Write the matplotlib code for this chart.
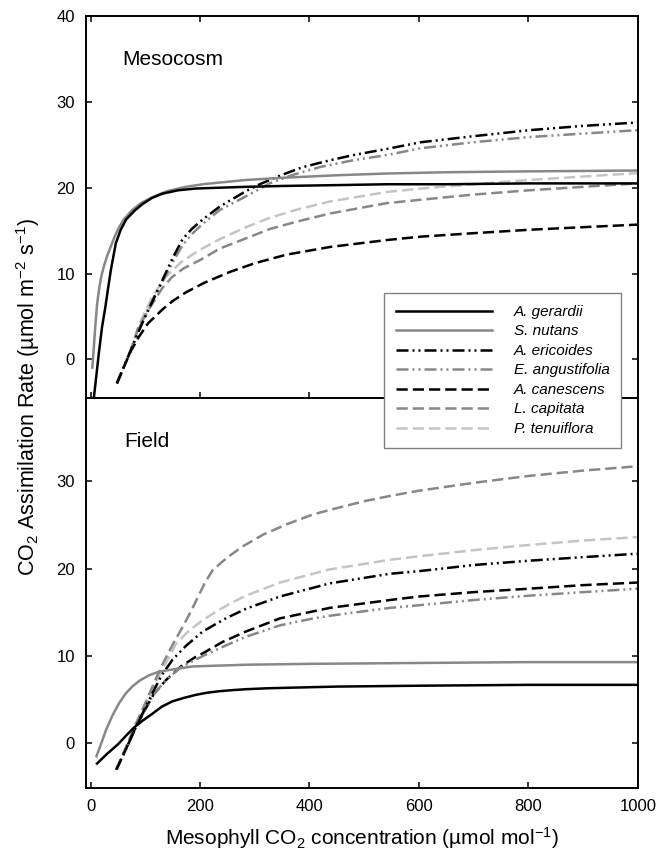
import matplotlib
matplotlib.use("Agg")
import matplotlib.pyplot as plt
from matplotlib.lines import Line2D

plt.rcParams["font.family"] = ["Liberation Sans", "DejaVu Sans"]
plt.rcParams["mathtext.fontset"] = "custom"
plt.rcParams["mathtext.rm"] = "Liberation Sans"
plt.rcParams["mathtext.it"] = "Liberation Sans:italic"
plt.rcParams["mathtext.default"] = "regular"

# ---------------- species and styles ----------------
species = ["A. gerardii", "S. nutans", "A. ericoides", "E. angustifolia",
           "A. canescens", "L. capitata", "P. tenuiflora"]

# ---------------- Mesocosm curves (Ci, A) ----------------
meso_gerardii_x = [5, 10, 15, 21, 27, 32, 37, 46, 55, 65, 80, 95, 112, 131, 160, 192, 236, 284, 350, 450, 541, 650, 800, 1000]
meso_gerardii_y = [-5.0, -2.2, 0.7, 3.8, 6.1, 8.3, 10.4, 13.5, 15.1, 16.3, 17.3, 18.1, 18.8, 19.3, 19.7, 19.9, 20.0, 20.1, 20.2, 20.3, 20.4, 20.4, 20.5, 20.5]

meso_nutans_x = [3, 6, 9, 12, 16, 20, 25, 30, 36, 44, 52, 62, 76, 92, 113, 140, 174, 205, 236, 284, 350, 450, 541, 650, 800, 1000]
meso_nutans_y = [-1.1, 1.5, 4.2, 6.5, 8.4, 9.8, 11.0, 12.0, 13.0, 14.3, 15.4, 16.4, 17.4, 18.2, 18.9, 19.6, 20.1, 20.4, 20.6, 20.9, 21.15, 21.45, 21.65, 21.8, 21.9, 22.0]

meso_ericoides_x = [48, 60, 73, 88, 100, 115, 131, 150, 168, 185, 205, 236, 284, 309, 350, 388, 438, 480, 540, 604, 700, 802, 900, 1000]
meso_ericoides_y = [-2.8, -1.0, 1.0, 3.3, 5.0, 7.0, 9.2, 11.8, 14.0, 15.2, 16.3, 17.8, 19.6, 20.4, 21.5, 22.4, 23.2, 23.8, 24.5, 25.3, 26.0, 26.7, 27.2, 27.6]

meso_angustifolia_x = [48, 60, 73, 88, 100, 115, 131, 150, 168, 185, 205, 236, 284, 327, 370, 419, 480, 541, 604, 700, 802, 900, 1000]
meso_angustifolia_y = [-2.8, -1.0, 1.0, 3.5, 5.2, 7.2, 9.0, 11.3, 13.3, 14.6, 15.8, 17.4, 19.0, 20.5, 21.5, 22.4, 23.2, 23.8, 24.6, 25.3, 25.9, 26.3, 26.7]

meso_canescens_x = [48, 60, 73, 88, 105, 131, 150, 174, 207, 255, 300, 358, 438, 541, 604, 700, 802, 900, 1000]
meso_canescens_y = [-2.8, -1.0, 0.9, 2.6, 4.2, 5.8, 6.8, 7.8, 8.9, 10.2, 11.2, 12.2, 13.1, 13.9, 14.3, 14.7, 15.1, 15.4, 15.7]

meso_capitata_x = [48, 60, 73, 88, 108, 131, 149, 170, 198, 236, 284, 328, 380, 438, 541, 604, 700, 802, 900, 1000]
meso_capitata_y = [-2.8, -1.0, 1.0, 3.8, 6.0, 8.3, 9.6, 10.6, 11.5, 12.9, 14.1, 15.2, 16.1, 17.0, 18.2, 18.6, 19.2, 19.7, 20.1, 20.5]

meso_tenuiflora_x = [48, 60, 73, 88, 113, 137, 165, 198, 236, 284, 328, 380, 438, 541, 604, 700, 802, 900, 1000]
meso_tenuiflora_y = [-2.8, -1.0, 1.0, 4.0, 7.3, 9.6, 11.3, 12.7, 14.0, 15.4, 16.5, 17.5, 18.4, 19.5, 19.9, 20.4, 20.9, 21.3, 21.7]

# ---------------- Field curves (Ci, A) ----------------
field_gerardii_x = [10, 30, 50, 65, 79, 95, 113, 130, 149, 170, 192, 213, 235, 260, 284, 320, 350, 450, 600, 800, 1000]
field_gerardii_y = [-2.4, -1.2, -0.1, 0.9, 1.8, 2.6, 3.4, 4.2, 4.8, 5.2, 5.55, 5.8, 5.97, 6.1, 6.2, 6.3, 6.35, 6.5, 6.6, 6.7, 6.7]

field_nutans_x = [10, 20, 28, 40, 52, 64, 76, 90, 107, 125, 144, 186, 284, 400, 600, 800, 1000]
field_nutans_y = [-1.6, 0.1, 1.5, 3.2, 4.6, 5.7, 6.5, 7.2, 7.8, 8.2, 8.4, 8.8, 9.0, 9.1, 9.2, 9.3, 9.3]

field_ericoides_x = [47, 65, 83, 100, 115, 130, 150, 175, 205, 247, 284, 346, 437, 547, 600, 700, 802, 900, 1000]
field_ericoides_y = [-3.0, -0.6, 1.9, 4.1, 6.0, 7.8, 9.6, 11.2, 12.8, 14.3, 15.4, 16.8, 18.3, 19.4, 19.7, 20.4, 20.9, 21.3, 21.7]

field_angustifolia_x = [47, 65, 83, 100, 115, 137, 165, 205, 247, 284, 346, 407, 437, 547, 600, 700, 802, 900, 1000]
field_angustifolia_y = [-3.0, -0.6, 1.9, 3.9, 5.6, 7.2, 8.7, 10.0, 11.2, 12.2, 13.5, 14.3, 14.6, 15.5, 15.8, 16.4, 16.9, 17.3, 17.7]

field_canescens_x = [47, 65, 83, 100, 115, 137, 165, 192, 205, 241, 284, 346, 437, 547, 600, 700, 802, 900, 1000]
field_canescens_y = [-3.0, -0.6, 1.9, 3.9, 5.6, 7.2, 8.8, 9.9, 10.3, 11.6, 12.8, 14.3, 15.5, 16.4, 16.8, 17.3, 17.7, 18.1, 18.4]

field_capitata_x = [47, 65, 83, 100, 113, 131, 150, 168, 185, 198, 210, 223, 241, 255, 277, 316, 360, 407, 437, 500, 547, 600, 700, 802, 900, 1000]
field_capitata_y = [-3.0, -0.4, 2.3, 4.6, 6.5, 9.0, 11.3, 13.3, 15.3, 17.0, 18.5, 19.8, 20.8, 21.5, 22.5, 23.9, 25.1, 26.2, 26.7, 27.7, 28.3, 28.9, 29.8, 30.6, 31.2, 31.7]

field_tenuiflora_x = [47, 65, 83, 100, 115, 130, 156, 180, 205, 230, 255, 284, 346, 400, 437, 547, 600, 700, 802, 900, 1000]
field_tenuiflora_y = [-3.0, -0.4, 2.2, 4.4, 6.4, 8.3, 11.4, 12.9, 14.1, 15.1, 16.0, 16.9, 18.4, 19.3, 19.9, 21.0, 21.4, 22.1, 22.7, 23.2, 23.6]

# ---------------- axis ticks ----------------
x_ticks = [0, 200, 400, 600, 800, 1000]
meso_y_ticks = [0, 10, 20, 30, 40]
field_y_ticks = [0, 10, 20, 30]

BLACK = "#000000"
GRAY = "#878787"
LIGHT = "#c4c4c4"
DASH = (0, (4.5, 2.0))
DASHDOTDOT = (0, (4.8, 1.6, 0.8, 1.6, 0.8, 1.6))
SOLID = "-"
LW = 1.8

styles = [
    (BLACK, SOLID),
    (GRAY, SOLID),
    (BLACK, DASHDOTDOT),
    (GRAY, DASHDOTDOT),
    (BLACK, DASH),
    (GRAY, DASH),
    (LIGHT, DASH),
]

meso = [
    (meso_gerardii_x, meso_gerardii_y),
    (meso_nutans_x, meso_nutans_y),
    (meso_ericoides_x, meso_ericoides_y),
    (meso_angustifolia_x, meso_angustifolia_y),
    (meso_canescens_x, meso_canescens_y),
    (meso_capitata_x, meso_capitata_y),
    (meso_tenuiflora_x, meso_tenuiflora_y),
]
field = [
    (field_gerardii_x, field_gerardii_y),
    (field_nutans_x, field_nutans_y),
    (field_ericoides_x, field_ericoides_y),
    (field_angustifolia_x, field_angustifolia_y),
    (field_canescens_x, field_canescens_y),
    (field_capitata_x, field_capitata_y),
    (field_tenuiflora_x, field_tenuiflora_y),
]

fig = plt.figure(figsize=(6.58, 8.51), dpi=100)
ax1 = fig.add_axes([0.1307, 0.5323, 0.8386, 0.4489])
ax2 = fig.add_axes([0.1307, 0.0740, 0.8386, 0.4583])

# draw order: lighter series behind the solid ones
order = [6, 5, 4, 3, 2, 1, 0]
for ax, curves in ((ax1, meso), (ax2, field)):
    for i in order:
        x, y = curves[i]
        c, ls = styles[i]
        ax.plot(x, y, color=c, linestyle=ls, linewidth=LW,
                solid_capstyle="butt", dash_capstyle="butt",
                solid_joinstyle="round")
    ax.set_xlim(-8.4, 1000)
    ax.set_xticks(x_ticks)
    for s in ax.spines.values():
        s.set_linewidth(1.4)
    ax.tick_params(direction="in", length=4.3, width=1.1, labelsize=12,
                   pad=8, right=True)

ax1.set_ylim(-4.5, 40)
ax1.set_yticks(meso_y_ticks)
ax1.tick_params(top=True, bottom=True, labelbottom=False)

ax2.set_ylim(-5.1, 39.5)
ax2.set_yticks(field_y_ticks)
ax2.tick_params(top=False, bottom=True)

ax1.text(0.066, 0.872, "Mesocosm", transform=ax1.transAxes, fontsize=15,
         ha="left", va="baseline")
ax2.text(0.069, 0.874, "Field", transform=ax2.transAxes, fontsize=15,
         ha="left", va="baseline")

ax2.set_xlabel(r"Mesophyll CO$_2$ concentration (µmol mol$^{-1}$)",
               fontsize=15, labelpad=8)
fig.text(0.043, 0.5335,
         r"CO$_2$ Assimilation Rate (µmol m$^{-2}$ s$^{-1}$)",
         rotation=90, ha="center", va="center", fontsize=15.5)

handles = [Line2D([], [], color=c, linestyle=ls, linewidth=LW)
           for c, ls in styles]
leg = fig.legend(handles, species, loc="upper left",
                 bbox_to_anchor=(0.5836, 0.6557), bbox_transform=fig.transFigure,
                 borderaxespad=0, prop={"size": 11, "style": "italic"},
                 handlelength=6.3, handletextpad=1.4, labelspacing=0.36,
                 borderpad=0.78, fancybox=False, framealpha=1,
                 edgecolor="#808080")
leg.get_frame().set_linewidth(1.0)

fig.savefig("out.png", dpi=100)
